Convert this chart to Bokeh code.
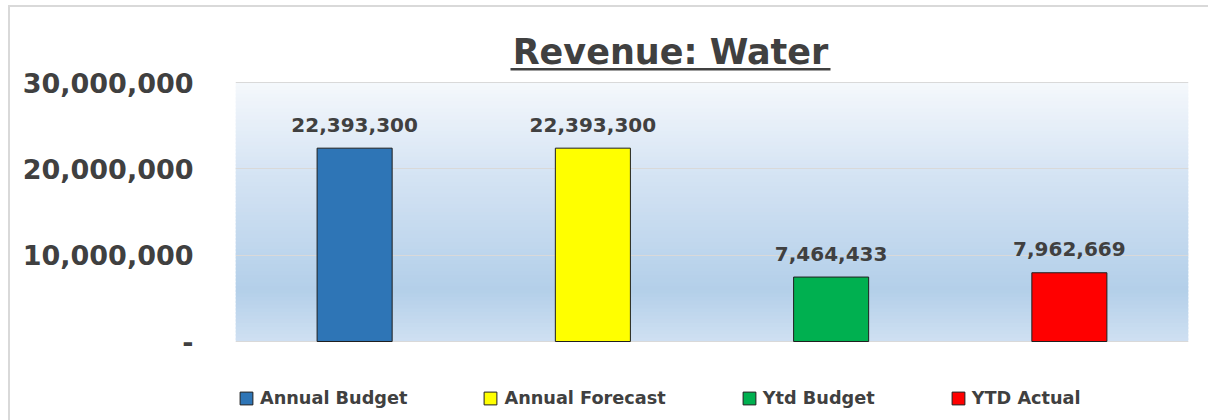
from bokeh.plotting import figure
from bokeh.models import (ColumnDataSource, FactorRange, Range1d, LabelSet, Label, Legend,
                          LegendItem, BoxAnnotation, FixedTicker)
from bokeh.core.properties import value
from bokeh.embed import file_html
from bokeh.resources import INLINE

categories = ["Annual Budget", "Annual Forecast", "Ytd Budget", "YTD Actual"]
values = [22393300, 22393300, 7464433, 7962669]
bar_colors = ["#2e75b6", "#ffff00", "#00b050", "#ff0000"]
tick_values = [0, 10000000, 20000000, 30000000]
tick_labels = ["-", "10,000,000", "20,000,000", "30,000,000"]
title_text = "Revenue: Water"

FONT = "DejaVu Sans"
TXT = "#404040"
Y_MAX = 30000000

# layout (pixels): plot area spans x 235..1188, value 0 at y=341, Y_MAX at y=82
W, H = 1208, 420
PX_L, PX_R = 235, 1188
PY_0, PY_MAX = 341, 82
per_px = Y_MAX / (PY_0 - PY_MAX)
cat_px = (PX_R - PX_L) / len(categories)

def yv(py):
    return (PY_0 - py) * per_px

def xv(px):
    return (px - PX_L) / cat_px

source = ColumnDataSource(dict(
    cat=categories,
    val=values,
    color=bar_colors,
    label=[f"{v:,}" for v in values],
))

p = figure(width=W, height=H, output_backend="svg", toolbar_location=None,
           x_range=FactorRange(*categories, range_padding=0),
           y_range=Range1d(yv(H), yv(0)),
           min_border_left=PX_L, min_border_right=W - PX_R, min_border_top=0, min_border_bottom=0,
           outline_line_color=None, background_fill_color="white",
           border_fill_color="white")
p.stylesheets = [":host::after{content:'';position:absolute;left:8px;top:5px;right:0;bottom:0;"
                 "border-left:2px solid #d9d9d9;border-top:2px solid #d9d9d9;pointer-events:none;}"]

# gradient background of the plot area
stops = [(0.0, (245, 248, 252)), (0.33, (215, 229, 244)), (0.80, (179, 207, 233)), (1.0, (207, 224, 242))]
def interp(f):
    for (f0, c0), (f1, c1) in zip(stops[:-1], stops[1:]):
        if f0 <= f <= f1:
            t = (f - f0) / (f1 - f0)
            return "#%02x%02x%02x" % tuple(int(round(a + (b - a) * t)) for a, b in zip(c0, c1))
    return "#%02x%02x%02x" % stops[-1][1]
N = 70
band = Y_MAX / N
for i in range(N):
    top = Y_MAX - i * band
    bot = max(0, top - band * 1.6)
    col = interp((i + 0.5) / N)
    p.add_layout(BoxAnnotation(top=top, bottom=bot, fill_color=col, fill_alpha=1.0,
                               line_color=None, level="image"))

r = p.vbar(x="cat", top="val", width=0.315, source=source, fill_color="color",
           line_color="#1f1f1f", line_width=1)

labels = LabelSet(x="cat", y="val", text="label", source=source, y_offset=23.5,
                  text_align="center", text_baseline="middle",
                  text_font_size="20px", text_font_style="bold", text_color=TXT,
                  text_font=value(FONT))
p.add_layout(labels)

p.xaxis.visible = False
p.xgrid.visible = False
p.ygrid.grid_line_color = "#d9d9d9"
p.ygrid.grid_line_width = 1

yax = p.yaxis[0]
yax.ticker = FixedTicker(ticks=tick_values)
yax.major_label_overrides = {v: l for v, l in zip(tick_values, tick_labels)}
yax.axis_line_color = None
yax.major_tick_line_color = None
yax.minor_tick_line_color = None
yax.major_tick_out = 0
yax.major_tick_in = 0
yax.major_label_standoff = 42
yax.major_label_text_font = FONT
yax.major_label_text_font_style = "bold"
yax.major_label_text_font_size = "27px"
yax.major_label_text_color = TXT

# title with underline
p.add_layout(Label(x=xv(670), y=yv(51), text=title_text, text_align="center",
                   text_baseline="middle", text_font=FONT, text_font_size="35px",
                   text_font_style="bold", text_color=TXT))
p.add_layout(BoxAnnotation(left=xv(510), right=xv(830), top=yv(67.5), bottom=yv(70),
                           fill_color=TXT, fill_alpha=1.0, line_color=None, level="overlay"))

items = [LegendItem(label=c, renderers=[r], index=i) for i, c in enumerate(categories)]
legend = Legend(items=items, orientation="horizontal", location=(3, 12),
                glyph_width=16, glyph_height=16, label_standoff=6, spacing=75,
                padding=0, margin=0, border_line_color=None, background_fill_alpha=0,
                label_text_font=FONT, label_text_font_style="bold",
                label_text_font_size="17.7px", label_text_color=TXT)
p.add_layout(legend, "center")

open("out.html", "w").write(file_html(p, INLINE))
